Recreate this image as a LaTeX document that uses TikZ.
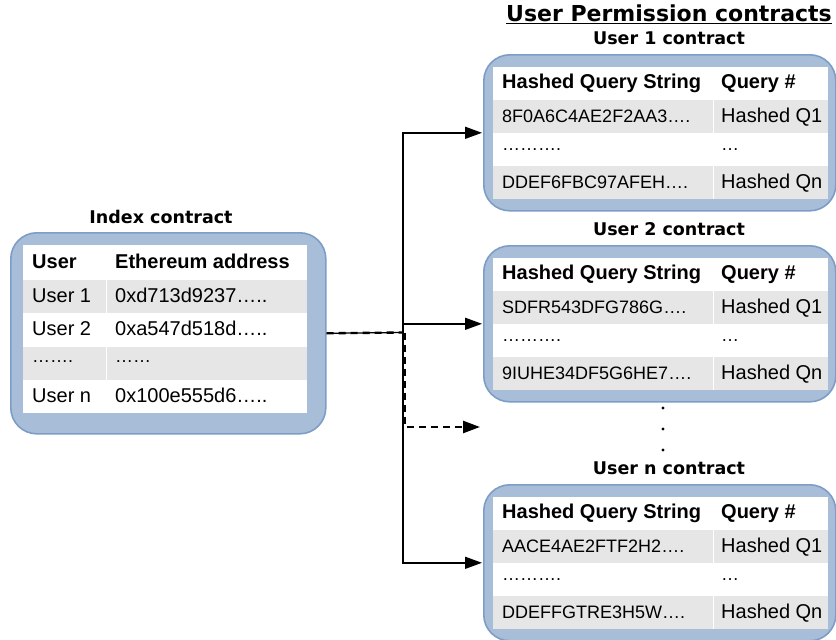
\documentclass[tikz,border=0pt]{standalone}
\usepackage{fontspec}
\setmainfont{Liberation Sans}
\newfontfamily\capfont{DejaVu Sans}
\usetikzlibrary{arrows.meta,positioning}
\definecolor{boxfill}{HTML}{A8BED8}
\definecolor{boxline}{HTML}{7D9DC6}
\definecolor{rowgray}{HTML}{E6E6E6}
\tikzset{
  contract/.style={draw=boxline,fill=boxfill,line width=1.6pt,
                   rounded corners=26pt,anchor=north west,inner sep=0pt},
  caption/.style={font=\capfont\bfseries\fontsize{17.5}{20}\selectfont},
  cell/.style={anchor=west,inner sep=0pt,text height=14pt,text depth=0pt,
               font=\fontsize{20}{22}\selectfont},
  hexcell/.style={cell,font=\fontsize{18}{20}\selectfont},
  headcell/.style={cell,font=\bfseries\fontsize{20}{22}\selectfont},
  dotcell/.style={anchor=west,inner sep=0pt,font=\fontsize{18}{20}\selectfont},
  link/.style={-{Triangle[length=17pt,width=12pt]},line width=1.5pt}
}

\begin{document}
\begin{tikzpicture}[x=1pt,y=-1pt]
  \useasboundingbox (0,0) rectangle (836,640);

  % index contract
  \node[caption] (indexcap) at (161,217) {Index contract};
  \node[contract,minimum width=315pt,minimum height=201pt] (index) at (10,232) {};
  \fill[white] (23,245) rectangle (307,413);
  \foreach \y in {280,347}{
    \fill[rowgray] (23,\y) rectangle (105.5,\y+33);
    \fill[rowgray] (106.5,\y) rectangle (307,\y+33);
  }
  \node[headcell] (ihead1) at (32,261) {User};
  \node[headcell] (ihead2) at (115,261) {Ethereum address};
  \foreach \y/\usr/\addr in {295/User 1/0xd713d9237…..,
                             328/User 2/0xa547d518d…..,
                             395/User n/0x100e555d6…..}{
    \node[cell] at (32,\y) {\usr};
    \node[cell] at (115,\y) {\addr};
  }
  \node[dotcell] (idots1) at (32,362) {…….};
  \node[dotcell] (idots2) at (115,362) {……};

  % user permission contracts
  \node[caption,font=\capfont\bfseries\fontsize{22}{24}\selectfont]
    (permtitle) at (669,14) {\underline{User Permission contracts}};
  \foreach \t/\name/\who/\hexa/\hexb in {
      54/u1/1/8F0A6C4AE2F2AA3…./DDEF6FBC97AFEH….,
      245/u2/2/SDFR543DFG786G…./9IUHE34DF5G6HE7….,
      484/un/n/AACE4AE2FTF2H2…./DDEFFGTRE3H5W….}{
    \node[caption] (\name cap) at (669,\t-16) {User \who\ contract};
    \node[contract,minimum width=352pt,minimum height=156pt] (\name) at (483,\t) {};
    \fill[white] (493,\t+13) rectangle (828,\t+145);
    \foreach \r in {46,112}{
      \fill[rowgray] (493,\t+\r) rectangle (712.5,\t+\r+33);
      \fill[rowgray] (713.5,\t+\r) rectangle (828,\t+\r+33);
    }
    \node[headcell] at (502,\t+27) {Hashed Query String};
    \node[headcell] at (721,\t+27) {Query \#};
    \node[hexcell] at (502,\t+61) {\hexa};
    \node[cell] at (721,\t+61) {Hashed Q1};
    \node[dotcell] at (502,\t+96) {……….};
    \node[dotcell] at (721,\t+96) {…};
    \node[hexcell] at (502,\t+127) {\hexb};
    \node[cell] at (721,\t+127) {Hashed Qn};
  }
  \foreach \y in {408,429,450}
    \fill (663,\y) circle (1.6);

  % links from the index to the user contracts
  \coordinate (fork) at (403,332.5);
  \coordinate (more) at (480,427);
  \draw[line width=1.3pt] (index.east) -- (fork);
  \draw[line width=2.4pt,dash pattern=on 7pt off 5pt] (index.east) -- (fork);
  \draw[link,shorten >=1pt] (fork) |- (u1.west);
  \draw[link,shorten >=1pt] (fork) |- (u2.west);
  \draw[link,shorten >=1pt] (fork) |- (un.west);
  \draw[link,line width=2.4pt,dash pattern=on 7pt off 5pt]
    ([xshift=2pt]fork) |- (more);
\end{tikzpicture}
\end{document}
